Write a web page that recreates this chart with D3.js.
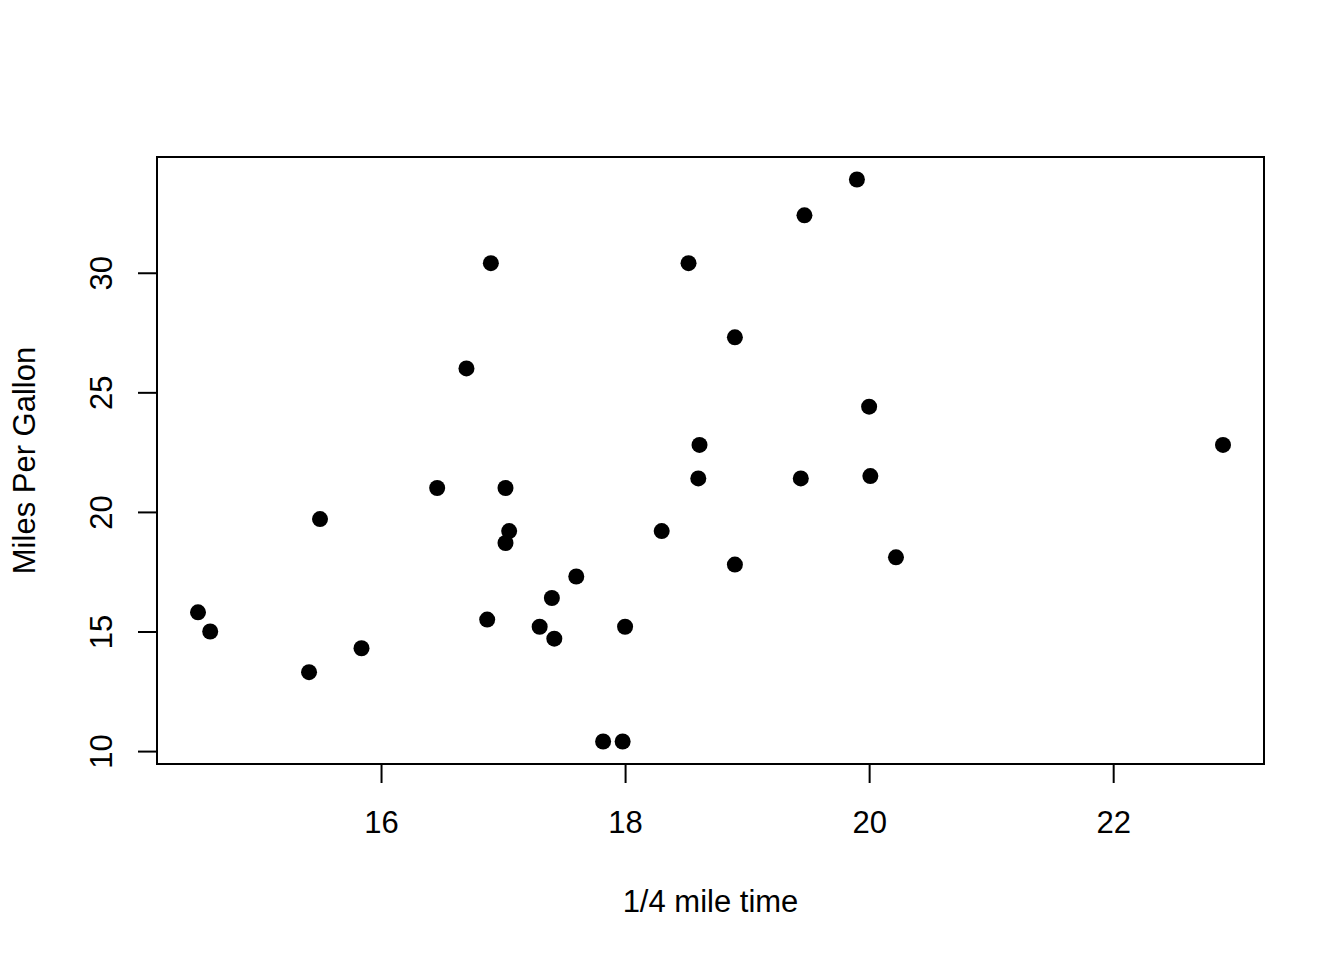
<!DOCTYPE html>
<html lang="en">
<head>
	<meta charset="UTF-8">
	<script src="https://cdn.jsdelivr.net/npm/d3@7"></script>
	<title>mtcars qsec vs mpg</title>
	<style>
		body { margin: 0; background: #fff; }
		svg text { font-family: "Liberation Sans", Arial, Helvetica, sans-serif; fill: #000; }
	</style>
</head>
<body>
	<div id="chart"></div>
	<script>
		// 1/4 mile time (qsec) and miles per gallon (mpg)
		const qsec = [16.46, 17.02, 18.61, 19.44, 17.02, 20.22, 15.84, 20.00, 22.90, 18.30, 18.90,
			17.40, 17.60, 18.00, 17.98, 17.82, 17.42, 19.47, 18.52, 19.90, 20.01, 16.87,
			17.30, 15.41, 17.05, 18.90, 16.70, 16.90, 14.50, 15.50, 14.60, 18.60];
		const mpg = [21.0, 21.0, 22.8, 21.4, 18.7, 18.1, 14.3, 24.4, 22.8, 19.2, 17.8,
			16.4, 17.3, 15.2, 10.4, 10.4, 14.7, 32.4, 30.4, 33.9, 21.5, 15.5,
			15.2, 13.3, 19.2, 27.3, 26.0, 30.4, 15.8, 19.7, 15.0, 21.4];
		const xTicks = [16, 18, 20, 22];
		const yTicks = [10, 15, 20, 25, 30];

		const width = 1344, height = 960;
		const plotLeft = 157, plotRight = 1264, plotTop = 157, plotBottom = 764;
		const fontSize = 31;

		const svg = d3.select('#chart').append('svg')
			.attr('width', width)
			.attr('height', height);

		// R style 4% padding on each side
		const padDomain = ext => {
			const d = (ext[1] - ext[0]) * 0.04;
			return [ext[0] - d, ext[1] + d];
		};
		const x = d3.scaleLinear().domain(padDomain(d3.extent(qsec))).range([plotLeft, plotRight]);
		const y = d3.scaleLinear().domain(padDomain(d3.extent(mpg))).range([plotBottom, plotTop]);

		const xAxis = d3.axisBottom(x).tickValues(xTicks).tickSize(19).tickPadding(10).tickFormat(d3.format('d'));
		const yAxis = d3.axisLeft(y).tickValues(yTicks).tickSize(19).tickPadding(10).tickFormat(d3.format('d'));

		const gx = svg.append('g').attr('transform', `translate(0,${plotBottom})`).call(xAxis);
		gx.select('.domain').remove();
		gx.append('line')
			.attr('x1', x(xTicks[0])).attr('x2', x(xTicks[xTicks.length - 1]))
			.attr('stroke', '#000').attr('stroke-width', 2);
		gx.selectAll('.tick line').attr('stroke-width', 2);
		gx.selectAll('.tick text').attr('font-size', fontSize).attr('dy', null).attr('y', 69);

		const gy = svg.append('g').attr('transform', `translate(${plotLeft},0)`).call(yAxis);
		gy.select('.domain').remove();
		gy.append('line')
			.attr('y1', y(yTicks[0])).attr('y2', y(yTicks[yTicks.length - 1]))
			.attr('stroke', '#000').attr('stroke-width', 2);
		gy.selectAll('.tick line').attr('stroke-width', 2);
		gy.selectAll('.tick text')
			.attr('font-size', fontSize)
			.attr('x', null).attr('dy', null)
			.attr('text-anchor', 'middle')
			.attr('transform', 'translate(-45,0) rotate(-90)');

		// plot box
		svg.append('rect')
			.attr('x', plotLeft).attr('y', plotTop)
			.attr('width', plotRight - plotLeft).attr('height', plotBottom - plotTop)
			.attr('fill', 'none').attr('stroke', '#000').attr('stroke-width', 2);

		// points
		svg.append('g').selectAll('circle')
			.data(qsec.map((q, i) => [q, mpg[i]]))
			.join('circle')
			.attr('cx', d => x(d[0]))
			.attr('cy', d => y(d[1]))
			.attr('r', 8)
			.attr('fill', '#000');

		// axis titles
		svg.append('text')
			.attr('x', (plotLeft + plotRight) / 2).attr('y', 912)
			.attr('text-anchor', 'middle').attr('font-size', fontSize)
			.text('1/4 mile time');
		svg.append('text')
			.attr('transform', `translate(35,${(plotTop + plotBottom) / 2}) rotate(-90)`)
			.attr('text-anchor', 'middle').attr('font-size', fontSize)
			.text('Miles Per Gallon');
	</script>
</body>
</html>
